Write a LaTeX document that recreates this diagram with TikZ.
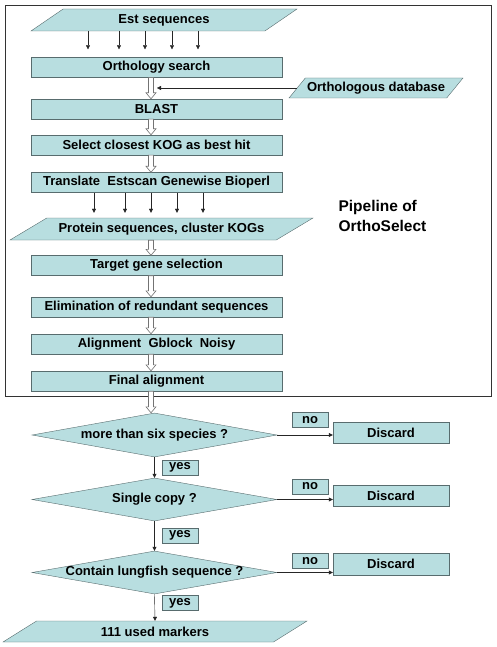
\documentclass[tikz,border=0pt]{standalone}
\usepackage{fontspec}
\setmainfont{Liberation Sans}
\usetikzlibrary{shapes.geometric,arrows.meta,calc}

\definecolor{boxfill}{RGB}{184,222,224}
\definecolor{boxline}{RGB}{88,108,110}
\newcommand\lab{\fontsize{13}{15}\selectfont\bfseries}

\tikzstyle{proc}=[draw=boxline,fill=boxfill,minimum width=251pt,minimum height=20pt,inner sep=1pt,font=\lab]
\tikzstyle{para}=[trapezium,trapezium stretches body,draw=boxline,fill=boxfill,inner sep=1pt,font=\lab]
\tikzstyle{decision}=[diamond,aspect=5.5,draw=boxline,fill=boxfill,minimum width=245pt,minimum height=44pt,inner ysep=1pt,inner xsep=-40pt,font=\lab]
\tikzstyle{tag}=[draw=boxline,fill=boxfill,minimum width=36pt,minimum height=15pt,inner sep=0pt,font=\lab]
\tikzstyle{discard}=[draw=boxline,fill=boxfill,minimum width=116pt,minimum height=21pt,inner sep=0pt,font=\lab]
\tikzstyle{arr}=[draw=black!85,-{Triangle[length=4pt,width=4pt]}]
\tikzstyle{fat}=[draw=black!55,fill=white,line width=0.6pt]

% hollow block arrow between two boxes
\newcommand\fatarrow[2]{%
  \draw[fat] let \p1=(#1.south -| axis), \p2=(#2.north -| axis) in
    (\x1-2.5pt,\y1) -- (\x1-2.5pt,\y2+6pt) -- (\x1-5pt,\y2+6pt) -- (\x1,\y2)
    -- (\x1+5pt,\y2+6pt) -- (\x1+2.5pt,\y2+6pt) -- (\x1+2.5pt,\y1) -- cycle;}

\begin{document}
\begin{tikzpicture}[x=1pt,y=-1pt]
  \useasboundingbox (0,0) rectangle (496,647);
  \coordinate (axis) at (151,0);

  % pipeline frame
  \draw[black!80,line width=0.8pt] (5,5) rectangle (491,396);

  \node[para,trapezium left angle=23,trapezium right angle=157,minimum width=266pt,minimum height=22pt] (est) at (164,20) {Est sequences};
  \node[proc] (orth)   at (156.5,67.5) {Orthology search};
  \node[para,trapezium left angle=41,trapezium right angle=139,minimum width=174pt,minimum height=20pt] (odb) at (376,88) {Orthologous database};
  \node[proc] (blast)  at (156.5,109)   {BLAST};
  \node[proc] (kog)    at (156.5,145)   {Select closest KOG as best hit};
  \node[proc] (trans)  at (156.5,182.5) {Translate\ \ Estscan Genewise Bioperl};
  \node[para,trapezium left angle=21,trapezium right angle=159,minimum width=303pt,minimum height=22pt] (prot) at (161.5,229) {Protein sequences, cluster KOGs};
  \node[proc] (target) at (156.5,265.5) {Target gene selection};
  \node[proc] (elim)   at (156.5,307)   {Elimination of redundant sequences};
  \node[proc] (align)  at (156.5,344)   {Alignment\ \ Gblock\ \ Noisy};
  \node[proc] (final)  at (156.5,381)   {Final alignment};

  \node[anchor=west,align=left,font=\fontsize{15.5}{20}\selectfont\bfseries] (title) at (335,216) {Pipeline of\\OrthoSelect};

  \node[decision] (d1) at (154.5,435)   {more than six species ?};
  \node[decision,minimum height=43pt] (d2) at (154.5,499.5) {Single copy ?};
  \node[decision,minimum height=43pt] (d3) at (154.5,572.5) {Contain lungfish sequence ?};
  \node[para,trapezium left angle=19,trapezium right angle=161,minimum width=304pt,minimum height=21pt] (mark) at (155,631.5) {111 used markers};

  \node[discard] (disc1) at (391,433)   {Discard};
  \node[discard] (disc2) at (391,495.5) {Discard};
  \node[discard,minimum height=22pt] (disc3) at (391,564) {Discard};

  \node[tag] (no1)  at (310,420)   {no};
  \node[tag] (no2)  at (310,486.5) {no};
  \node[tag] (no3)  at (310,561)   {no};
  \node[tag] (yes1) at (180,467.5) {yes};
  \node[tag] (yes2) at (180,535.5) {yes};
  \node[tag] (yes3) at (180,603)   {yes};

  \foreach \dx in {-76,-45,-19,8,34}
    \draw[arr] ($(est.south)+(\dx,0)$) -- ($(est.south |- orth.north)+(\dx,-8)$);
  \foreach \dx in {-62.5,-31.5,-5.5,20.5,46.5}
    \draw[arr] ($(trans.south)+(\dx,0)$) -- ($(trans.south |- prot.north)+(\dx,-5)$);

  \foreach \from/\to in {orth/blast, blast/kog, kog/trans, prot/target,
            target/elim, elim/align, align/final, final/d1}
    \fatarrow{\from}{\to};

  \draw[arr] (odb.west) -- ($(axis |- odb.west)+(6,0)$);

  \foreach \from/\to in {d1/d2, d2/d3, d3/mark}
    \draw[arr] (\from.south) -- (\to.north);
  \foreach \d/\bin in {d1/disc1, d2/disc2, d3/disc3}
    \draw[arr] (\d.east) -- (\d.east -| \bin.west);
\end{tikzpicture}
\end{document}
